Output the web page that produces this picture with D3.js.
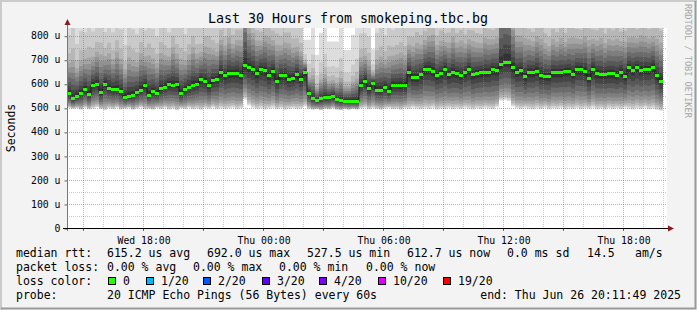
<!DOCTYPE html>
<html lang="en">
<head>
<meta charset="utf-8">
<title>Last 30 Hours from smokeping.tbc.bg</title>
<script src="https://cdn.jsdelivr.net/npm/d3@7"></script>
<style>
  html, body { margin: 0; padding: 0; background: #f3f3f3; }
  svg { display: block; }
  text { font-family: 'DejaVu Sans Mono', monospace; fill: #000; }
</style>
</head>
<body>
<svg id="chart" width="697" height="310"></svg>
<script>
// time window: 30 hours ending at the probe end time, 12 minute bins
const endTime = new Date(2025, 5, 26, 20, 11, 49)
const startTime = new Date(endTime.getTime() - 30 * 3600 * 1000)
const binMinutes = 12

// median rtt per bin, microseconds
const medianRtt = [
  561, 539, 551, 561, 578, 557, 595, 601, 564, 601,
  583, 578, 578, 568, 547, 551, 555, 564, 576, 593,
  555, 569, 561, 582, 587, 600, 596, 598, 561, 578,
  586, 596, 601, 619, 610, 593, 615, 621, 647, 635,
  643, 646, 646, 637, 679, 668, 660, 644, 660, 656,
  635, 653, 612, 636, 635, 621, 625, 641,
  621, 651, 562, 540, 532, 539, 543, 543, 549, 535, 531, 529,
  529, 529, 528, 596, 612, 581, 604, 576, 576, 587,
  571, 596, 594, 594, 594, 649, 627, 627, 639, 662,
  662, 653, 637, 643, 662, 640, 649, 644, 636, 647,
  660, 639, 644, 649, 649, 649, 660, 656, 683, 692,
  692, 668, 651, 656, 631, 649, 649, 655, 636, 632,
  632, 647, 647, 647, 653, 653, 642, 661, 661, 654,
  624, 662, 644, 640, 642, 643, 644, 637, 650, 632,
  668, 658, 669, 658, 661, 661, 671, 635, 613
]

// fastest ping per bin (bottom of the smoke), microseconds
const pingMin = [
  500, 496, 498, 492, 500, 494, 497, 502, 495, 490,
  498, 495, 500, 493, 496, 499, 492, 497, 501, 494,
  496, 492, 499, 495, 500, 493, 497, 490, 498, 495,
  500, 494, 497, 492, 499, 496, 501, 494, 498, 495,
  497, 500, 494, 498, 535, 510, 500, 495, 498, 493,
  497, 500, 494, 498, 492, 496, 499, 495,
  497, 505, 495, 492, 494, 490, 495, 493, 497, 492, 490, 494,
  492, 495, 493, 497, 500, 494, 498, 495, 492, 497,
  500, 494, 496, 492, 498, 495, 500, 497, 494, 498,
  495, 500, 493, 497, 495, 499, 494, 498, 495, 500,
  496, 493, 498, 495, 500, 497, 494, 502, 530, 532,
  528, 505, 498, 495, 500, 496, 493, 498, 495, 500,
  494, 498, 496, 500, 493, 497, 495, 499, 494, 498,
  496, 500, 494, 497, 493, 499, 495, 498, 494, 500,
  496, 493, 498, 495, 500, 494, 497, 492, 488
]

// distance from median to the slowest ping per bin, microseconds
const spreadUp = [
  440, 545, 390, 470, 430, 520, 405, 455, 545, 390,
  495, 430, 535, 470, 390, 545, 495, 440, 520, 415,
  560, 470, 430, 505, 455, 390, 535, 440, 495, 415,
  470, 535, 430, 390, 495, 545, 440, 390, 470, 430,
  520, 415, 470, 495, 900, 585, 520, 470, 415, 495,
  545, 440, 520, 430, 470, 505, 430, 390,
  390, 132, 221, 330, 188, 273, 330, 233, 227, 241, 320, 212,
  212, 275, 320, 390, 360, 390, 140, 430, 470, 390,
  495, 415, 440, 470, 430, 390, 440, 495, 430, 415,
  470, 520, 430, 470, 390, 455, 505, 440, 495, 415,
  430, 480, 440, 415, 495, 470, 430, 470, 1000, 1100,
  1050, 650, 520, 495, 545, 470, 440, 495, 520, 470,
  430, 480, 440, 495, 415, 470, 520, 440, 430, 495,
  545, 430, 470, 520, 440, 495, 470, 520, 440, 495,
  430, 470, 415, 495, 470, 440, 430, 520, 545
]

// where pings 1..10 and 11..20 sit between min, median and max
const lowFrac = [1.0, 0.96, 0.92, 0.86, 0.78, 0.68, 0.56, 0.42, 0.28, 0.14]
const upFrac = [0.03, 0.065, 0.105, 0.15, 0.195, 0.24, 0.29, 0.38, 0.55, 1.0]

const yTicks = [0, 100, 200, 300, 400, 500, 600, 700, 800]

const lossLegend = [
  ['0', '#26ff00'], ['1/20', '#00b8ff'], ['2/20', '#0059ff'], ['3/20', '#5e00ff'],
  ['4/20', '#7e00ff'], ['10/20', '#dd00ff'], ['19/20', '#ff0000']
]

const width = 697, height = 310
const plotLeft = 67, plotRight = 667, plotTop = 28, plotBottom = 228

const svg = d3.select('#chart')

// frame
svg.append('rect').attr('width', width).attr('height', height).attr('fill', '#f3f3f3')
svg.append('path').attr('d', `M1,${height} V1 H${width}`).attr('fill', 'none').attr('stroke', '#cbcbcb').attr('stroke-width', 2)
svg.append('path').attr('d', `M1,${height - 1.5} H${width - 1.5} V1`).attr('fill', 'none').attr('stroke', '#9a9a9a').attr('stroke-width', 2)

const x = d3.scaleTime().domain([startTime, endTime]).range([plotLeft, plotRight])
const y = d3.scaleLinear().domain([0, 832]).range([plotBottom, plotTop])

svg.append('rect').attr('x', plotLeft).attr('y', plotTop).attr('width', plotRight - plotLeft)
  .attr('height', plotBottom - plotTop).attr('fill', '#fff')

svg.append('clipPath').attr('id', 'plot')
  .append('rect').attr('x', plotLeft).attr('y', plotTop).attr('width', plotRight - plotLeft)
  .attr('height', plotBottom - plotTop)

// bins
const bins = medianRtt.map((m, i) => ({
  t: new Date(startTime.getTime() + i * binMinutes * 60000),
  median: m,
  low: pingMin[i],
  up: spreadUp[i]
}))
const last = bins[bins.length - 1]
const series = bins.concat([Object.assign({}, last, { t: new Date(last.t.getTime() + binMinutes * 60000) })])

const pingAt = (d, n) => n <= 10
  ? d.median - lowFrac[n - 1] * (d.median - d.low)
  : d.median + upFrac[n - 11] * d.up

// smoke: layer k spans ping k .. ping 21-k
const smoke = svg.append('g').attr('clip-path', 'url(#plot)')
for (let k = 1; k <= 10; k++) {
  const g = Math.floor(190 / 10 * (10 - k)) + 50
  const area = d3.area()
    .curve(d3.curveStepAfter)
    .x(d => x(d.t))
    .y0(d => y(pingAt(d, k)))
    .y1(d => y(pingAt(d, 21 - k)))
  smoke.append('path').datum(series).attr('d', area).attr('fill', d3.rgb(g, g, g))
}

// median
smoke.append('path').datum(series)
  .attr('d', d3.line().curve(d3.curveStepAfter).x(d => x(d.t)).y(d => Math.round(y(d.median)) + 0.5))
  .attr('fill', 'none').attr('stroke', '#1a1a1a').attr('stroke-width', 1)
smoke.selectAll('rect.med').data(bins).join('rect').attr('class', 'med')
  .attr('x', d => x(d.t))
  .attr('width', d => x(new Date(d.t.getTime() + binMinutes * 60000)) - x(d.t))
  .attr('y', d => Math.round(y(d.median)) - 1)
  .attr('height', 3)
  .attr('fill', '#26ff00')

// grid
const grid = svg.append('g').attr('fill', 'none').attr('stroke-dasharray', '1,1')
const minorY = d3.range(50, 832, 100)
grid.selectAll('.gy').data(minorY).join('line')
  .attr('x1', plotLeft).attr('x2', plotRight)
  .attr('y1', d => Math.round(y(d)) + 0.5).attr('y2', d => Math.round(y(d)) + 0.5)
  .attr('stroke', 'rgba(140,140,140,0.45)')
grid.selectAll('.my').data(yTicks.slice(1)).join('line')
  .attr('x1', plotLeft).attr('x2', plotRight)
  .attr('y1', d => Math.round(y(d)) + 0.5).attr('y2', d => Math.round(y(d)) + 0.5)
  .attr('stroke', 'rgba(215,40,40,0.45)')

const hours = d3.timeHour.range(startTime, endTime)
grid.selectAll('.gx').data(hours.filter(d => d.getHours() % 3 !== 0)).join('line')
  .attr('x1', d => Math.round(x(d)) + 0.5).attr('x2', d => Math.round(x(d)) + 0.5)
  .attr('y1', plotTop).attr('y2', plotBottom)
  .attr('stroke', 'rgba(140,140,140,0.45)')
grid.selectAll('.mx').data(hours.filter(d => d.getHours() % 3 === 0)).join('line')
  .attr('x1', d => Math.round(x(d)) + 0.5).attr('x2', d => Math.round(x(d)) + 0.5)
  .attr('y1', plotTop).attr('y2', plotBottom)
  .attr('stroke', 'rgba(215,40,40,0.45)')

// axes
const yAxis = d3.axisLeft(y).tickValues(yTicks).tickSize(3).tickPadding(4)
  .tickFormat(d => d === 0 ? '0' : d + ' u')
svg.append('g').attr('transform', `translate(${plotLeft + 0.5},0)`).call(yAxis)
  .call(g => g.select('.domain').remove())
  .call(g => g.selectAll('line').attr('stroke', '#666').attr('transform', 'translate(0,0.5)'))
  .call(g => g.selectAll('text').attr('font-size', 9.8).attr('font-family', 'DejaVu Sans Mono').attr('fill', '#000'))

const xLabels = hours.filter(d => d.getHours() % 6 === 0)
const xAxis = d3.axisBottom(x).tickValues(xLabels).tickSize(0).tickPadding(9)
  .tickFormat(d3.timeFormat('%a %H:%M'))
svg.append('g').attr('transform', `translate(0.5,${plotBottom})`).call(xAxis)
  .call(g => g.select('.domain').remove())
  .call(g => g.selectAll('text').attr('font-size', 9.8).attr('font-family', 'DejaVu Sans Mono').attr('fill', '#000'))

svg.append('g').selectAll('line').data(hours.filter(d => d.getHours() % 3 === 0)).join('line')
  .attr('x1', d => Math.round(x(d)) + 0.5).attr('x2', d => Math.round(x(d)) + 0.5)
  .attr('y1', plotBottom).attr('y2', plotBottom + 3).attr('stroke', '#666')

svg.append('line').attr('x1', plotLeft + 0.5).attr('x2', plotLeft + 0.5)
  .attr('y1', plotBottom + 3).attr('y2', plotTop - 5).attr('stroke', '#777')
svg.append('line').attr('x1', plotLeft - 4).attr('x2', plotRight + 3)
  .attr('y1', plotBottom + 0.5).attr('y2', plotBottom + 0.5).attr('stroke', '#000')
svg.append('path')
  .attr('d', `M${plotLeft - 2.5},${plotTop - 3} L${plotLeft + 0.5},${plotTop - 9} L${plotLeft + 3.5},${plotTop - 3} Z`)
  .attr('fill', '#8b1a1a')
svg.append('path')
  .attr('d', `M${plotRight + 1},${plotBottom - 2.5} L${plotRight + 7},${plotBottom + 0.5} L${plotRight + 1},${plotBottom + 3.5} Z`)
  .attr('fill', '#8b1a1a')

// titles
svg.append('text').attr('x', 348).attr('y', 23).attr('text-anchor', 'middle').attr('font-size', 13.3)
  .text('Last 30 Hours from smokeping.tbc.bg')
svg.append('text').attr('transform', `translate(15,${(plotTop + plotBottom) / 2}) rotate(-90)`)
  .attr('text-anchor', 'middle').attr('font-size', 11.5).text('Seconds')
svg.append('text').attr('transform', 'translate(685,4) rotate(90)')
  .attr('font-size', 8.6).style('fill', '#a8a8a8').text('RRDTOOL / TOBI OETIKER')

// legend
const legendRows = [
  [[16, 'median rtt:'], [107, '615.2 us avg'], [207, '692.0 us max'], [307, '527.5 us min'],
    [407, '612.7 us now'], [507, '0.0 ms sd'], [587, '14.5'], [635, 'am/s']],
  [[16, 'packet loss:'], [107, '0.00 % avg'], [193, '0.00 % max'], [279, '0.00 % min'], [366, '0.00 % now']],
  [[16, 'loss color:']],
  [[16, 'probe:'], [107, '20 ICMP Echo Pings (56 Bytes) every 60s']]
]
const rowY = [257, 271, 285, 299]
const legend = svg.append('g').attr('font-size', 11.5)
legendRows.forEach((row, r) => {
  row.forEach(([lx, s]) => {
    legend.append('text').attr('x', lx).attr('y', rowY[r]).text(s)
  })
})
const boxX = [108, 146, 203, 262, 319, 378, 443]
lossLegend.forEach(([label, color], i) => {
  legend.append('rect').attr('x', boxX[i] + 0.5).attr('y', 277.5).attr('width', 7).attr('height', 7)
    .attr('fill', color).attr('stroke', '#000')
  legend.append('text').attr('x', boxX[i] + 15).attr('y', rowY[2]).text(label)
})
legend.append('text').attr('x', 681).attr('y', rowY[3]).attr('text-anchor', 'end')
  .text('end: Thu Jun 26 20:11:49 2025')
</script>
</body>
</html>
